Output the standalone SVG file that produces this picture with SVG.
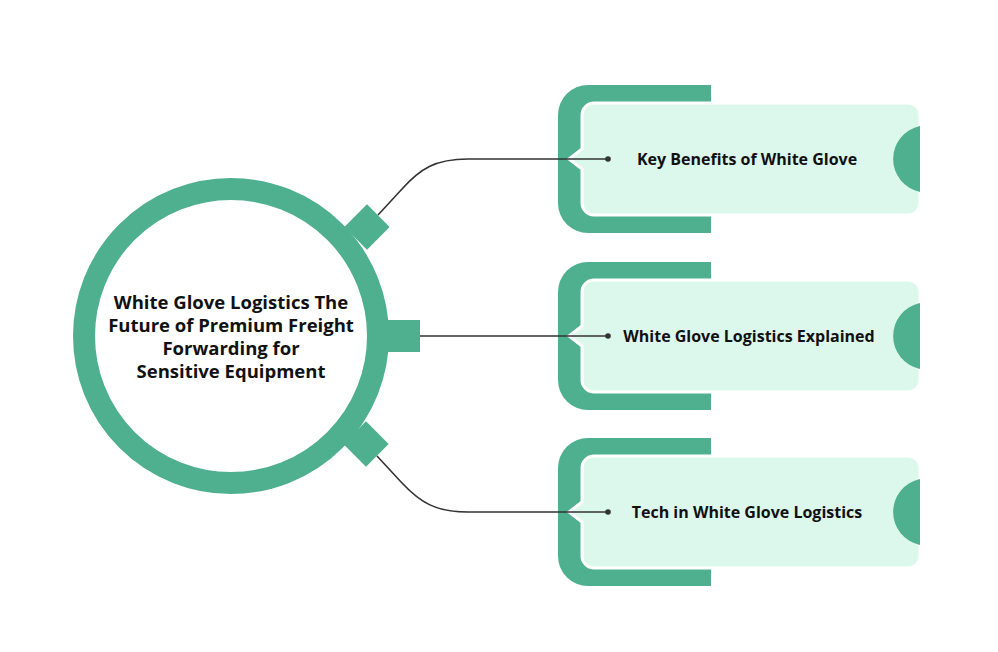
<svg xmlns="http://www.w3.org/2000/svg" width="998" height="652" viewBox="0 0 998 652">
<style>
.g{fill:#4eb08f}
.lt{fill:#dcf7ec;stroke:#ffffff;stroke-width:3}
.con{fill:none;stroke:#333;stroke-width:1.6}
.dot{fill:#333}
.t{font-family:"Open Sans","Liberation Sans",sans-serif;font-weight:700;fill:#111;text-anchor:middle}
.bt{font-size:16px}
.ct{font-size:18.5px}
</style>
<defs>
<g id="tpl">
<path class="g" d="M588,-74 H711 V74 H588 A30 30 0 0 1 558,44 V-44 A30 30 0 0 1 588,-74 Z"/>
<path class="lt" d="M594,-56 H908 A12 12 0 0 1 920,-44 V44 A12 12 0 0 1 908,56 H594 A12 12 0 0 1 582,44 V10 L569,0 L582,-10 V-44 A12 12 0 0 1 594,-56 Z"/>
<path class="g" d="M920,-33 A33.7 33.7 0 0 0 920,33 Z"/>
</g>
</defs>
<rect width="998" height="652" fill="#ffffff"/>
<g id="center">
<rect class="g" x="384" y="320" width="36" height="32"/>
<rect class="g" x="351" y="211" width="32" height="32" transform="rotate(45 367 227)"/>
<rect class="g" x="350" y="428" width="32" height="32" transform="rotate(-45 366 444)"/>
<circle cx="231" cy="336" r="147" fill="#ffffff" stroke="#4eb08f" stroke-width="22"/>
<text class="t ct" x="231" y="309">White Glove Logistics The</text>
<text class="t ct" x="231" y="332">Future of Premium Freight</text>
<text class="t ct" x="231" y="355">Forwarding for</text>
<text class="t ct" x="231" y="378">Sensitive Equipment</text>
</g>
<g id="node1" transform="translate(0,159)">
<use href="#tpl"/>
<text class="t bt" x="747" y="6">Key Benefits of White Glove</text>
</g>
<g id="node2" transform="translate(0,336)">
<use href="#tpl"/>
<text class="t bt" x="749" y="6">White Glove Logistics Explained</text>
</g>
<g id="node3" transform="translate(0,512)">
<use href="#tpl"/>
<text class="t bt" x="747" y="6">Tech in White Glove Logistics</text>
</g>
<g id="connectors">
<path class="con" d="M378,215 L402,189 C420,169 435,159 468,159 L608,159"/>
<path class="con" d="M420,336 L608,336"/>
<path class="con" d="M377,456 L402,483 C420,502 435,512 468,512 L608,512"/>
<circle class="dot" cx="608" cy="159" r="2.8"/>
<circle class="dot" cx="608" cy="336" r="2.8"/>
<circle class="dot" cx="608" cy="512" r="2.8"/>
</g>
</svg>
